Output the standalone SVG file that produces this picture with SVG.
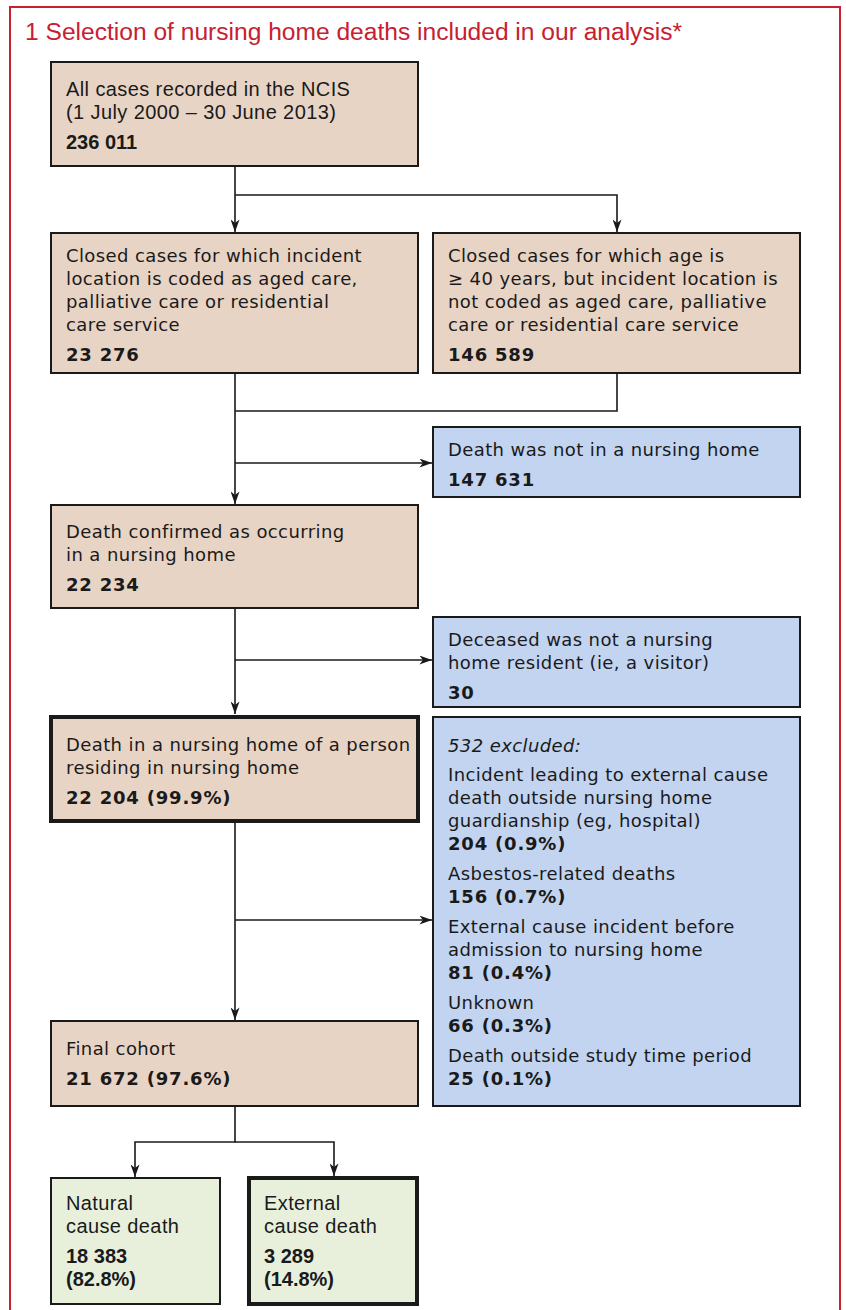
<svg xmlns="http://www.w3.org/2000/svg" width="846" height="1310" viewBox="0 0 846 1310">
<defs>
<style>
.frame{fill:#fff;stroke:#c8202f;stroke-width:2}
.title{font-family:"Liberation Sans",Arial,sans-serif;font-size:23px;fill:#c8202f}
.beige{fill:#e8d4c5;stroke:#1a1a1a;stroke-width:2}
.blue{fill:#c2d4f0;stroke:#1a1a1a;stroke-width:2}
.green{fill:#e8f0dc;stroke:#1a1a1a;stroke-width:2}
.thick{stroke-width:4}
.t{font-family:"DejaVu Sans",sans-serif;font-size:18px;letter-spacing:0.4px;fill:#1a1a1a}
.n{font-family:"DejaVu Sans",sans-serif;font-size:18px;font-weight:bold;letter-spacing:0.8px;fill:#1a1a1a}
.c{font-family:"Liberation Sans",Arial,sans-serif;font-size:20px;letter-spacing:0.4px;fill:#1a1a1a}
.b{font-weight:bold;letter-spacing:0}
.i{font-style:italic}
.conn{fill:none;stroke:#1a1a1a;stroke-width:1.6}
</style>
<marker id="ah" viewBox="0 0 14 10" refX="14" refY="5" markerWidth="14" markerHeight="9" markerUnits="userSpaceOnUse" orient="auto">
<path d="M0,0 L14,5 L0,10 L4,5 Z" fill="#1a1a1a"/>
</marker>
</defs>
<rect class="frame" x="10" y="7" width="830" height="1310"/>
<text class="title" x="25" y="40" textLength="657" lengthAdjust="spacingAndGlyphs">1  Selection of nursing home deaths included in our analysis*</text>

<g id="connectors">
<path class="conn" d="M235,166 V232" marker-end="url(#ah)"/>
<path class="conn" d="M235,195 H617 V232" marker-end="url(#ah)"/>
<path class="conn" d="M235,373 V504" marker-end="url(#ah)"/>
<path class="conn" d="M617,373 V411 H235"/>
<path class="conn" d="M235,463 H432" marker-end="url(#ah)"/>
<path class="conn" d="M235,608 V714" marker-end="url(#ah)"/>
<path class="conn" d="M235,660 H432" marker-end="url(#ah)"/>
<path class="conn" d="M235,822 V1020" marker-end="url(#ah)"/>
<path class="conn" d="M235,920 H432" marker-end="url(#ah)"/>
<path class="conn" d="M235,1106 V1142 H135 V1177" marker-end="url(#ah)"/>
<path class="conn" d="M235,1142 H334 V1176" marker-end="url(#ah)"/>
</g>

<g id="n_all">
<rect class="beige" x="51" y="62" width="367" height="104"/>
<text class="c" x="66" y="96">All cases recorded in the NCIS</text>
<text class="c" x="66" y="119">(1 July 2000 – 30 June 2013)</text>
<text class="c b" x="66" y="149">236 011</text>
</g>

<g id="n_closed_aged">
<rect class="beige" x="51" y="233" width="367" height="140"/>
<text class="t" x="66" y="262">Closed cases for which incident</text>
<text class="t" x="66" y="285">location is coded as aged care,</text>
<text class="t" x="66" y="308">palliative care or residential</text>
<text class="t" x="66" y="331">care service</text>
<text class="n" x="66" y="361">23 276</text>
</g>

<g id="n_closed_age40">
<rect class="beige" x="433" y="233" width="367" height="140"/>
<text class="t" x="448" y="262">Closed cases for which age is</text>
<text class="t" x="448" y="285">≥ 40 years, but incident location is</text>
<text class="t" x="448" y="308">not coded as aged care, palliative</text>
<text class="t" x="448" y="331">care or residential care service</text>
<text class="n" x="448" y="361">146 589</text>
</g>

<g id="n_not_nh">
<rect class="blue" x="433" y="427" width="367" height="70"/>
<text class="t" x="448" y="456">Death was not in a nursing home</text>
<text class="n" x="448" y="486">147 631</text>
</g>

<g id="n_confirmed">
<rect class="beige" x="51" y="505" width="367" height="103"/>
<text class="t" x="66" y="538">Death confirmed as occurring</text>
<text class="t" x="66" y="561">in a nursing home</text>
<text class="n" x="66" y="591">22 234</text>
</g>

<g id="n_visitor">
<rect class="blue" x="433" y="617" width="367" height="90"/>
<text class="t" x="448" y="646">Deceased was not a nursing</text>
<text class="t" x="448" y="669">home resident (ie, a visitor)</text>
<text class="n" x="448" y="699">30</text>
</g>

<g id="n_resident">
<rect class="beige thick" x="51" y="717" width="367" height="104"/>
<text class="t" x="66" y="751">Death in a nursing home of a person</text>
<text class="t" x="66" y="774">residing in nursing home</text>
<text class="n" x="66" y="804">22 204 (99.9%)</text>
</g>

<g id="n_excluded">
<rect class="blue" x="433" y="717" width="367" height="389"/>
<text class="t i" x="448" y="752">532 excluded:</text>
<text class="t" x="448" y="781">Incident leading to external cause</text>
<text class="t" x="448" y="804">death outside nursing home</text>
<text class="t" x="448" y="827">guardianship (eg, hospital)</text>
<text class="n" x="448" y="850">204 (0.9%)</text>
<text class="t" x="448" y="880">Asbestos-related deaths</text>
<text class="n" x="448" y="903">156 (0.7%)</text>
<text class="t" x="448" y="933">External cause incident before</text>
<text class="t" x="448" y="956">admission to nursing home</text>
<text class="n" x="448" y="979">81 (0.4%)</text>
<text class="t" x="448" y="1009">Unknown</text>
<text class="n" x="448" y="1032">66 (0.3%)</text>
<text class="t" x="448" y="1062">Death outside study time period</text>
<text class="n" x="448" y="1085">25 (0.1%)</text>
</g>

<g id="n_final">
<rect class="beige" x="51" y="1021" width="367" height="85"/>
<text class="t" x="66" y="1055">Final cohort</text>
<text class="n" x="66" y="1085">21 672 (97.6%)</text>
</g>

<g id="n_natural">
<rect class="green" x="51" y="1178" width="169" height="126"/>
<text class="c" x="66" y="1210">Natural</text>
<text class="c" x="66" y="1233">cause death</text>
<text class="c b" x="66" y="1263">18 383</text>
<text class="c b" x="66" y="1286">(82.8%)</text>
</g>

<g id="n_external">
<rect class="green thick" x="249" y="1178" width="168" height="126"/>
<text class="c" x="264" y="1210">External</text>
<text class="c" x="264" y="1233">cause death</text>
<text class="c b" x="264" y="1263">3 289</text>
<text class="c b" x="264" y="1286">(14.8%)</text>
</g>
</svg>
